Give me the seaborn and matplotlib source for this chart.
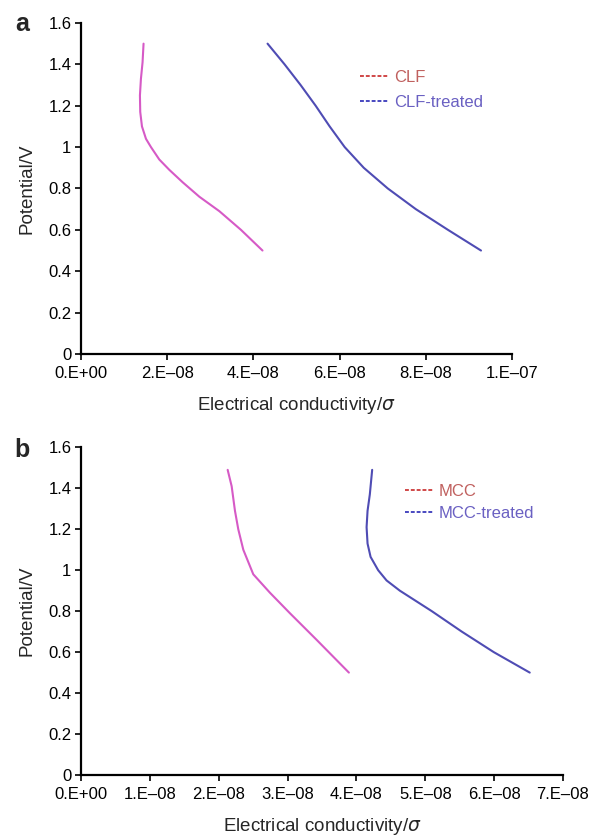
import numpy as np
import pandas as pd
import seaborn as sns
import matplotlib
matplotlib.use("Agg")
import matplotlib.pyplot as plt
from matplotlib.lines import Line2D

# ---- data ----
clf_v = [1.5, 1.41, 1.33, 1.25, 1.17, 1.10, 1.04, 1.0, 0.94, 0.89, 0.83, 0.76, 0.69, 0.6, 0.5]
clf = [1.449e-8, 1.426e-8, 1.388e-8, 1.365e-8, 1.372e-8, 1.412e-8, 1.505e-8, 1.621e-8,
       1.814e-8, 2.047e-8, 2.356e-8, 2.744e-8, 3.209e-8, 3.709e-8, 4.209e-8]
clft_v = [1.5, 1.4, 1.3, 1.2, 1.1, 1.0, 0.9, 0.8, 0.7, 0.6, 0.5]
clf_treated = [4.326e-8, 4.721e-8, 5.093e-8, 5.442e-8, 5.767e-8, 6.116e-8, 6.558e-8,
               7.116e-8, 7.767e-8, 8.512e-8, 9.279e-8]
mcc_v = [1.49, 1.41, 1.29, 1.20, 1.10, 0.98, 0.89, 0.79, 0.66, 0.5]
mcc = [2.129e-8, 2.187e-8, 2.235e-8, 2.283e-8, 2.356e-8, 2.501e-8, 2.743e-8, 3.033e-8,
       3.421e-8, 3.890e-8]
mcct_v = [1.49, 1.37, 1.29, 1.21, 1.13, 1.065, 1.0, 0.95, 0.9, 0.8, 0.7, 0.6, 0.5]
mcc_treated = [4.228e-8, 4.194e-8, 4.161e-8, 4.147e-8, 4.161e-8, 4.205e-8, 4.315e-8,
               4.437e-8, 4.630e-8, 5.094e-8, 5.530e-8, 5.994e-8, 6.517e-8]

yticks = [0, 0.2, 0.4, 0.6, 0.8, 1.0, 1.2, 1.4, 1.6]
ytick_labels = ["0", "0.2", "0.4", "0.6", "0.8", "1", "1.2", "1.4", "1.6"]
xticks_a = [0, 2e-8, 4e-8, 6e-8, 8e-8, 1e-7]
xtick_labels_a = ["0.E+00", "2.E\u201308", "4.E\u201308", "6.E\u201308", "8.E\u201308", "1.E\u201307"]
xticks_b = [0, 1e-8, 2e-8, 3e-8, 4e-8, 5e-8, 6e-8, 7e-8]
xtick_labels_b = ["0.E+00", "1.E\u201308", "2.E\u201308", "3.E\u201308", "4.E\u201308",
                  "5.E\u201308", "6.E\u201308", "7.E\u201308"]

sns.set_theme(style="white")
plt.rcParams["font.family"] = ["Liberation Sans", "DejaVu Sans"]
plt.rcParams["mathtext.fontset"] = "dejavusans"

PINK = "#d65ac6"
BLUE = "#4f4cb4"
RED_T = "#c0605e"
BLUE_T = "#6a60c2"

fig = plt.figure(figsize=(5.92, 8.38), dpi=100)
ax_a = fig.add_axes([0.137, 0.5776, 0.728, 0.395])
ax_b = fig.add_axes([0.137, 0.0752, 0.814, 0.391])

def draw(ax, xa, va, xb, vb, names, xticks, xlabels, xmax, leg_pos, spacing):
    df = pd.DataFrame({"x": xa + xb, "y": va + vb,
                       "s": [names[0]] * len(xa) + [names[1]] * len(xb)})
    sns.lineplot(data=df, x="x", y="y", hue="s", palette=[PINK, BLUE],
                 sort=False, estimator=None, ax=ax, linewidth=1.5, legend=False)
    ax.set_xlim(0, xmax)
    ax.set_ylim(0, 1.6)
    ax.set_xticks(xticks)
    ax.set_xticklabels(xlabels)
    ax.set_yticks(yticks)
    ax.set_yticklabels(ytick_labels)
    for s in ["top", "right"]:
        ax.spines[s].set_visible(False)
    for s in ["left", "bottom"]:
        ax.spines[s].set_color("black")
        ax.spines[s].set_linewidth(1.6)
    ax.tick_params(axis="both", which="major", labelsize=12, colors="black",
                   direction="out", length=4, width=1.2, left=True, bottom=True)
    ax.tick_params(axis="x", pad=5)
    ax.tick_params(axis="y", pad=3)
    ax.set_xlabel("Electrical conductivity/$\\sigma$", fontsize=13.5, labelpad=10)
    ax.set_ylabel("Potential/V", fontsize=13.5, labelpad=9)
    handles = [Line2D([], [], color="#d04848", linestyle=(0, (2, 1)), lw=1.4),
               Line2D([], [], color="#4848c0", linestyle=(0, (2, 1)), lw=1.4)]
    leg = ax.legend(handles, names, loc="upper left", bbox_to_anchor=leg_pos,
                    frameon=False, fontsize=12, handlelength=1.7, handletextpad=0.35,
                    labelspacing=spacing, borderaxespad=0, borderpad=0)
    for t, c in zip(leg.get_texts(), [RED_T, BLUE_T]):
        t.set_color(c)

draw(ax_a, clf, clf_v, clf_treated, clft_v, ["CLF", "CLF-treated"],
     xticks_a, xtick_labels_a, 1e-7, (0.647, 0.857), 0.6)
draw(ax_b, mcc, mcc_v, mcc_treated, mcct_v, ["MCC", "MCC-treated"],
     xticks_b, xtick_labels_b, 7e-8, (0.672, 0.889), 0.45)

fig.text(0.037, 0.971, "a", fontsize=18, fontweight="bold", ha="center", va="center")
fig.text(0.037, 0.463, "b", fontsize=18, fontweight="bold", ha="center", va="center")

fig.savefig("out.png", dpi=100)
